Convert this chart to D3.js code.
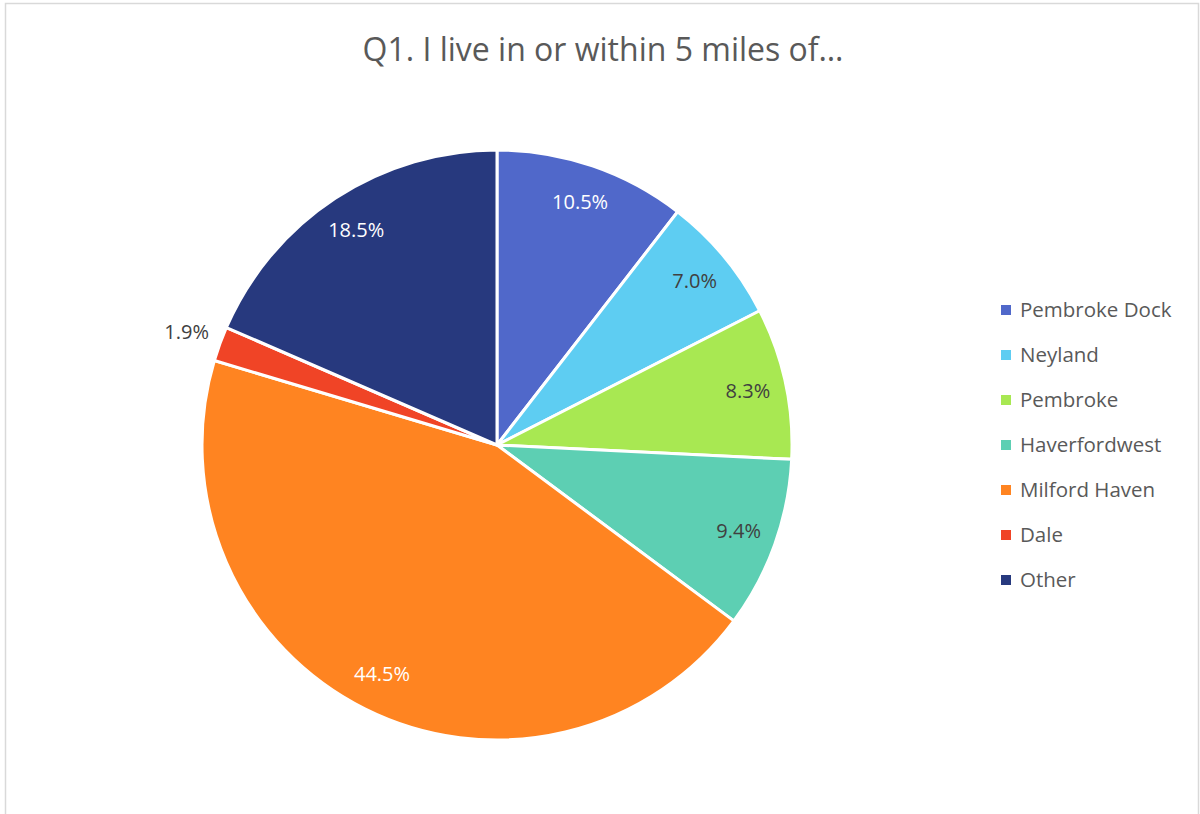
<!DOCTYPE html>
<html>
<head>
<meta charset="utf-8">
<script src="https://cdn.jsdelivr.net/npm/d3@7"></script>
<style>
  html, body { margin: 0; padding: 0; background: #fff; }
  svg { display: block; }
  text { font-family: "Open Sans", "Liberation Sans", sans-serif; }
</style>
</head>
<body>
<svg id="chart" width="1200" height="814"></svg>
<script>
// Survey responses: where respondents live
const categories = ["Pembroke Dock", "Neyland", "Pembroke", "Haverfordwest", "Milford Haven", "Dale", "Other"];
const values = [10.5, 7.0, 8.3, 9.4, 44.5, 1.9, 18.5];
const colors = ["#5068CA", "#5ECDF2", "#A8E852", "#5DCFB3", "#FF8421", "#F04426", "#27397E"];
const labelInk = ["#fff", "#404040", "#404040", "#404040", "#fff", "#404040", "#fff"];
const outsideLabel = [false, false, false, false, false, true, false];
const title = "Q1. I live in or within 5 miles of…";

const svg = d3.select("#chart");

// chart frame
svg.append("rect")
  .attr("x", 5.5).attr("y", 3.5)
  .attr("width", 1193).attr("height", 820)
  .attr("fill", "none").attr("stroke", "#d9d9d9").attr("stroke-width", 1.5);

svg.append("text")
  .attr("x", 603).attr("y", 61)
  .attr("text-anchor", "middle")
  .attr("font-size", 32)
  .attr("fill", "#595959")
  .text(title);

const cx = 497, cy = 445, r = 295;
const data = categories.map((c, i) => ({ name: c, value: values[i], i }));

const pie = d3.pie().value(d => d.value).sort(null);
const arcs = pie(data);
const arc = d3.arc().innerRadius(0).outerRadius(r);
const labelArc = d3.arc().innerRadius(r * 0.87).outerRadius(r * 0.87);
const outerLabelArc = d3.arc().innerRadius(r * 1.12).outerRadius(r * 1.12);

const g = svg.append("g").attr("transform", `translate(${cx},${cy})`);

g.selectAll("path.slice")
  .data(arcs)
  .join("path")
  .attr("class", "slice")
  .attr("d", arc)
  .attr("fill", d => colors[d.data.i])
  .attr("stroke", "#fff")
  .attr("stroke-width", 3)
  .attr("stroke-linejoin", "round");

g.selectAll("text.val")
  .data(arcs)
  .join("text")
  .attr("class", "val")
  .attr("transform", d => `translate(${(outsideLabel[d.data.i] ? outerLabelArc : labelArc).centroid(d)})`)
  .attr("text-anchor", "middle")
  .attr("dy", "0.35em")
  .attr("font-size", 20)
  .attr("fill", d => labelInk[d.data.i])
  .text(d => d3.format(".1f")(d.data.value) + "%");

// legend
const legend = svg.append("g").attr("transform", "translate(1001,310)");
const rows = legend.selectAll("g")
  .data(categories)
  .join("g")
  .attr("transform", (d, i) => `translate(0,${i * 45})`);
rows.append("rect")
  .attr("x", 0).attr("y", -5)
  .attr("width", 10).attr("height", 10)
  .attr("fill", (d, i) => colors[i]);
rows.append("text")
  .attr("x", 19).attr("dy", "0.35em")
  .attr("font-size", 20.5)
  .attr("fill", "#595959")
  .text(d => d);
</script>
</body>
</html>
